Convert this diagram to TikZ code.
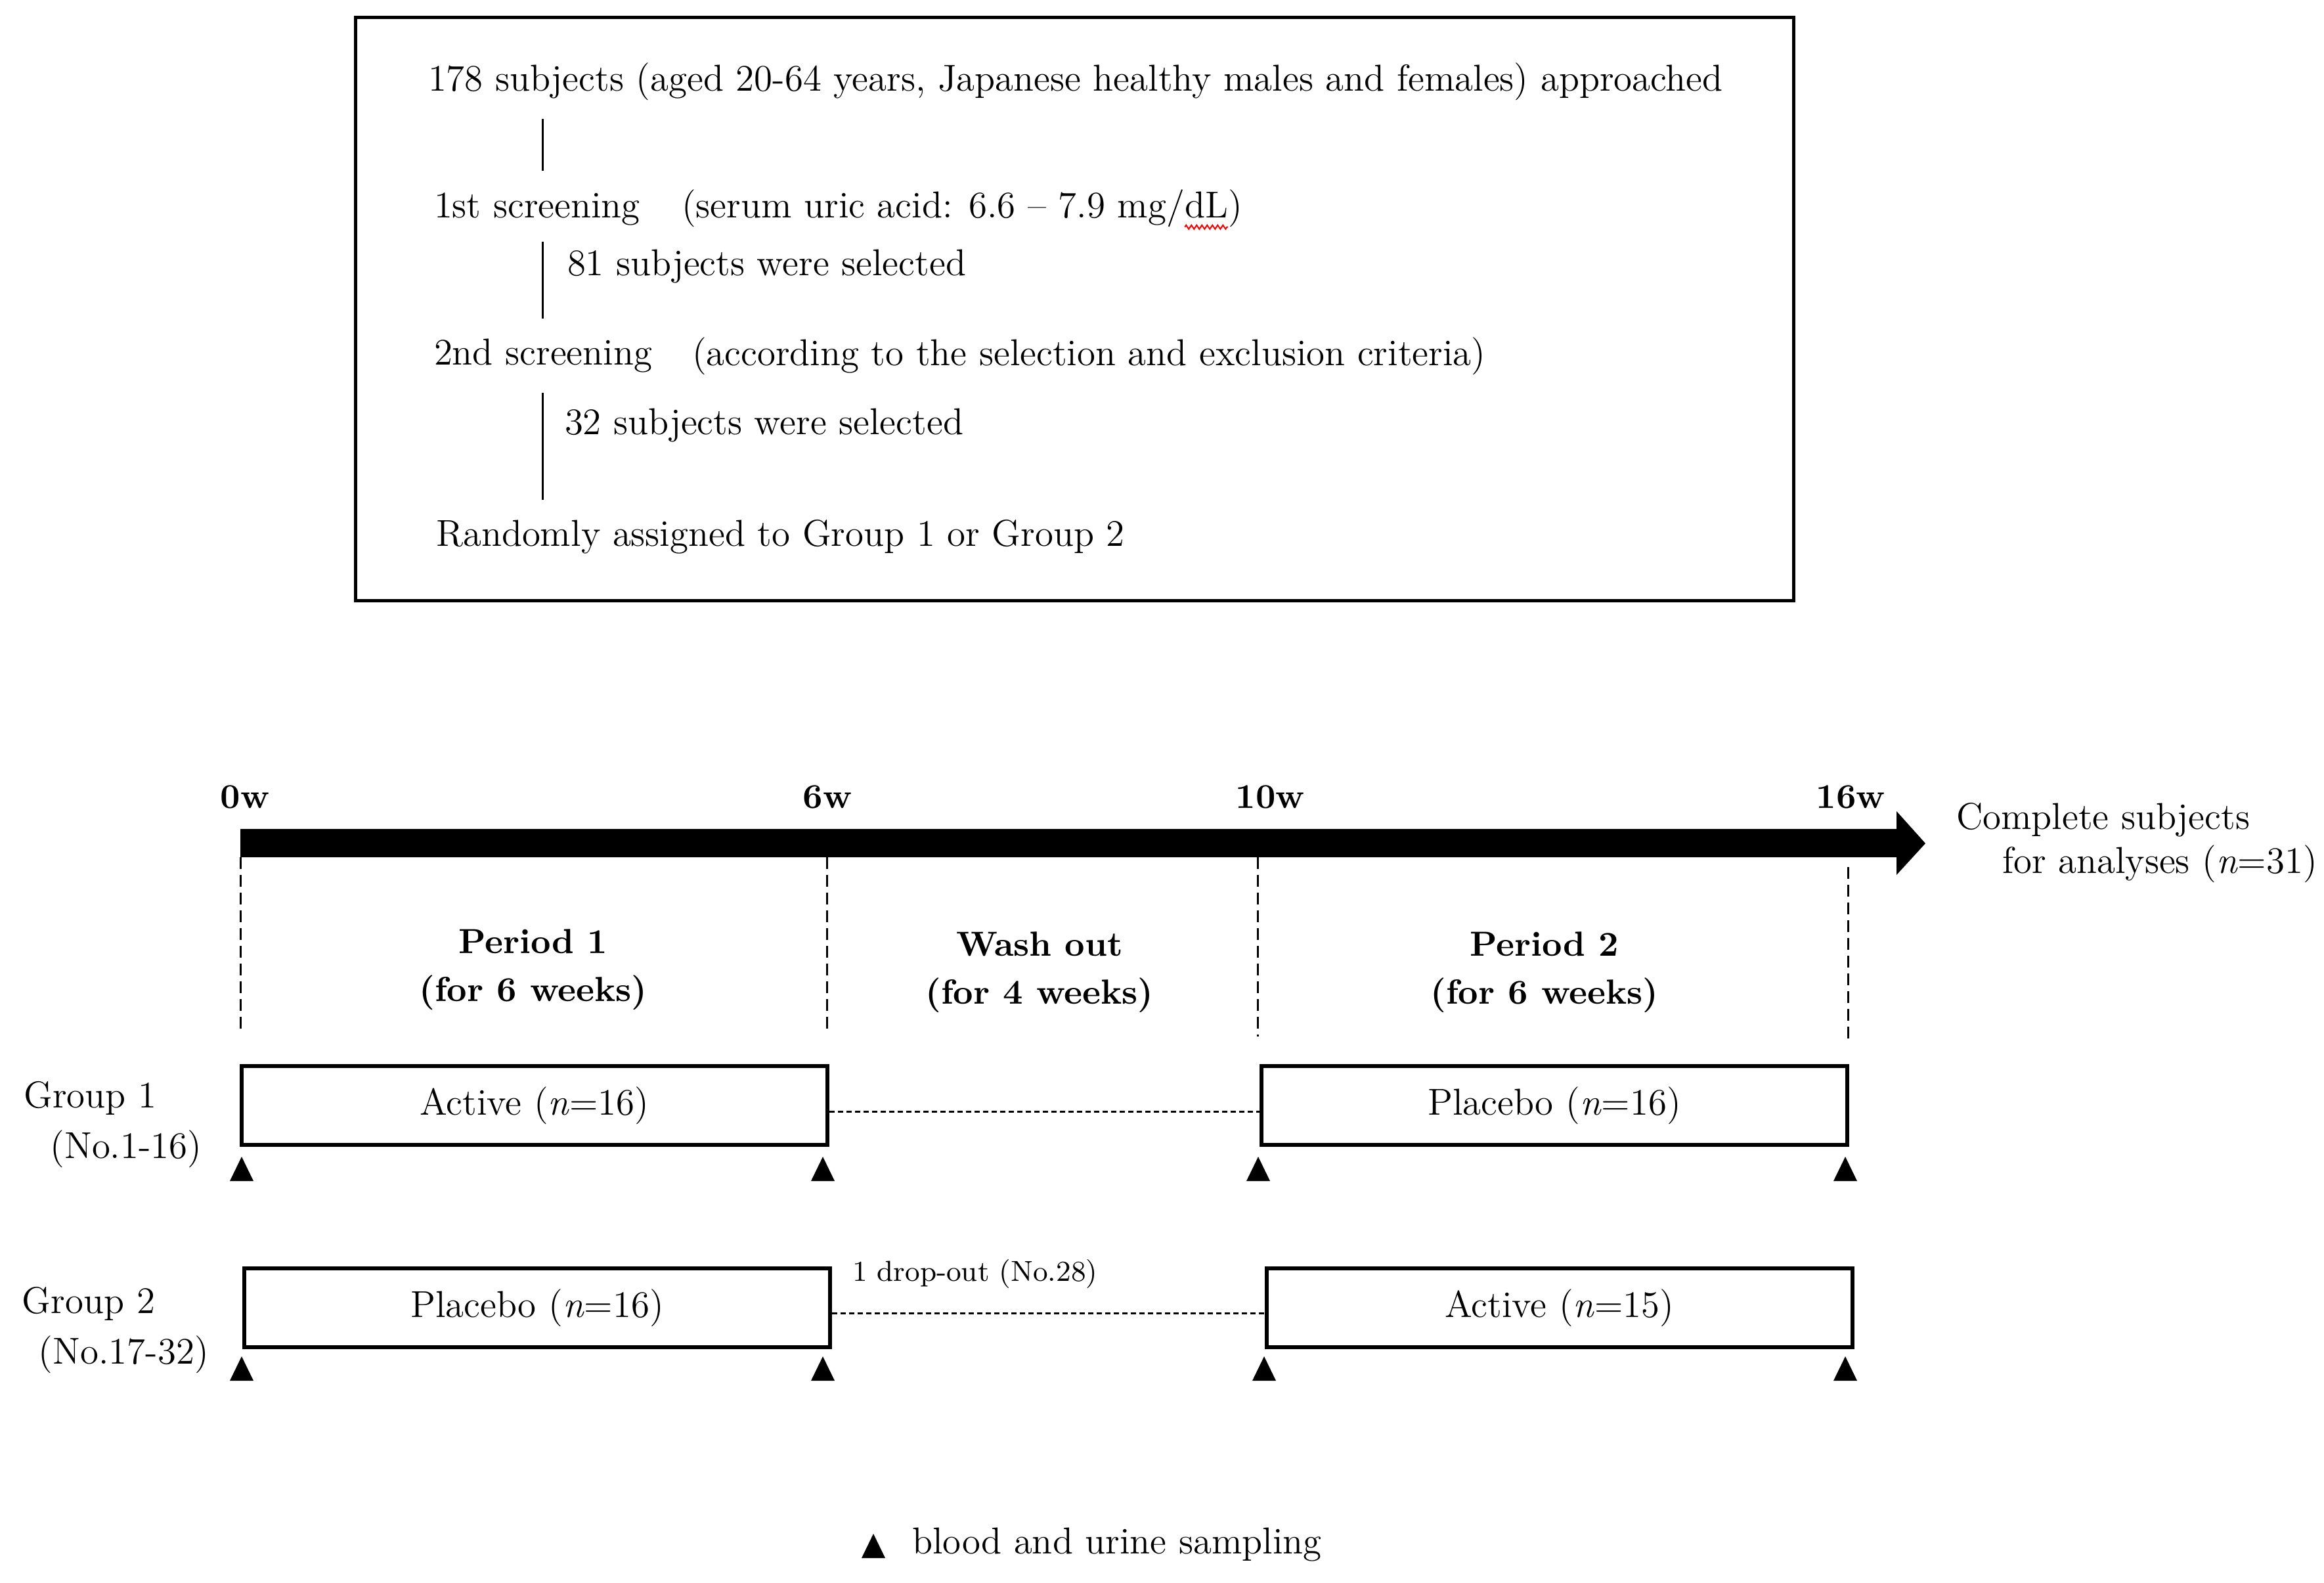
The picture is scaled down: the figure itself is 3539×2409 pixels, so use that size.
\documentclass[tikz,border=0pt]{standalone}
\usetikzlibrary{decorations.pathmorphing}
\tikzset{
  txt/.style={inner sep=0pt, outer sep=0pt, font=\fontsize{11.4}{13.5}\selectfont},
  ltxt/.style={txt, anchor=west},
  bold/.style={txt, font=\fontsize{10.6}{12.5}\selectfont\bfseries},
  small/.style={txt, font=\fontsize{8.8}{10}\selectfont},
  flowline/.style={line width=0.6pt},
  vdash/.style={line width=0.6pt, dash pattern=on 3.6pt off 1.8pt},
  hdash/.style={line width=0.6pt, dash pattern=on 1.6pt off 1pt},
  armbox/.style={draw, line width=1.2pt, inner sep=0pt, minimum width=178.4pt, minimum height=24pt, font=\fontsize{11.4}{13.5}\selectfont},
  samp/.pic={\fill (-18,0) -- (18,0) -- (0,-37) -- cycle;}
}
\begin{document}
\begin{tikzpicture}[x=0.2pt,y=-0.2pt]
\useasboundingbox (0,0) rectangle (3539,2409);
\fill[white] (0,0) rectangle (3539,2409);
% top box
\node[draw, line width=1pt, minimum width=437.8pt, minimum height=177.4pt, inner sep=0pt] (topbox) at (1636.5,470.5) {};
\node[ltxt] (t1) at (652,124) {178 subjects (aged 20-64 years, Japanese healthy males and females) approached};
\node[ltxt] (t2a) at (661,318) {1st screening};
\node[ltxt] (t2b) at (1038,318) {(serum uric acid: 6.6 -- 7.9 mg/\strut};
\node[txt, anchor=base west] (dl) at (t2b.base east) {dL\strut};
\node[txt, anchor=base west] (t2c) at (dl.base east) {)\strut};
\node[ltxt] (t3) at (864,406) {81 subjects were selected};
\node[ltxt] (t4a) at (661,542) {2nd screening};
\node[ltxt] (t4b) at (1054,542) {(according to the selection and exclusion criteria)};
\node[ltxt] (t5) at (860,648) {32 subjects were selected};
\node[ltxt] (t6) at (664,817) {Randomly assigned to Group 1 or Group 2};
\coordinate (v1a) at (826,181); \coordinate (v1b) at (826,260);
\coordinate (v2a) at (826,368); \coordinate (v2b) at (826,485);
\coordinate (v3a) at (826,598); \coordinate (v3b) at (826,761);
\draw[flowline] (v1a) -- (v1b);
\draw[flowline] (v2a) -- (v2b);
\draw[flowline] (v3a) -- (v3b);
\coordinate (sq1) at ([yshift=1.2pt]dl.south west);
\coordinate (sq2) at ([yshift=1.2pt]dl.south east);
\draw[red, line width=0.4pt, decorate, decoration={zigzag, amplitude=0.6pt, segment length=1.6pt}] (sq1) -- (sq2);
% timeline arrow
\fill (366,1262) -- (2888,1262) -- (2888,1235) -- (2932,1284) -- (2888,1332) -- (2888,1305) -- (366,1305) -- cycle;
\node[bold] (w0) at (373,1213) {0w};
\node[bold] (w6) at (1260,1213) {6w};
\node[bold] (w10) at (1934,1213) {10w};
\node[bold] (w16) at (2818,1213) {16w};
\node[txt, align=left] (comp) at (3254,1283) {Complete subjects\\\hspace*{14pt}for analyses (\textit{n}=31)};
\coordinate (d0a) at (366,1305); \coordinate (d0b) at (366,1575);
\coordinate (d6a) at (1259,1305); \coordinate (d6b) at (1259,1575);
\coordinate (d10a) at (1915,1305); \coordinate (d10b) at (1915,1578);
\coordinate (d16a) at (2814,1320); \coordinate (d16b) at (2814,1583);
\draw[vdash] (d0a) -- (d0b);
\draw[vdash] (d6a) -- (d6b);
\draw[vdash] (d10a) -- (d10b);
\draw[vdash] (d16a) -- (d16b);
\node[bold, align=center] (p1) at (812,1476) {Period 1\\[2pt](for 6 weeks)};
\node[bold, align=center] (wo) at (1583,1480) {Wash out\\[2pt](for 4 weeks)};
\node[bold, align=center] (p2) at (2352,1480) {Period 2\\[2pt](for 6 weeks)};
% group 1
\node[txt, align=left] (g1) at (172,1712) {Group 1\\[2pt]\hspace*{8pt}(No.1-16)};
\node[armbox] (g1a) at (814,1683) {Active (\textit{n}=16)};
\node[armbox] (g1b) at (2367,1683) {Placebo (\textit{n}=16)};
\draw[hdash] (g1a.east |- 0,1692) -- (g1b.west |- 0,1692);
\pic at (368,1798) {samp};
\pic at (1253,1798) {samp};
\pic at (1916,1798) {samp};
\pic at (2810,1798) {samp};
% group 2
\node[txt, align=left] (g2) at (176,2025) {Group 2\\[2pt]\hspace*{5pt}(No.17-32)};
\node[armbox] (g2a) at (818,1991) {Placebo (\textit{n}=16)};
\node[armbox] (g2b) at (2375,1991) {Active (\textit{n}=15)};
\draw[hdash] (g2a.east |- 0,1999) -- (g2b.west |- 0,1999);
\node[small, anchor=west] (drop) at (1298,1939) {1 drop-out (No.28)};
\pic at (368,2102) {samp};
\pic at (1253,2102) {samp};
\pic at (1925,2102) {samp};
\pic at (2810,2102) {samp};
% legend
\pic at (1330,2372) {samp};
\node[ltxt] (leg) at (1389,2352) {blood and urine sampling};
\end{tikzpicture}
\end{document}
